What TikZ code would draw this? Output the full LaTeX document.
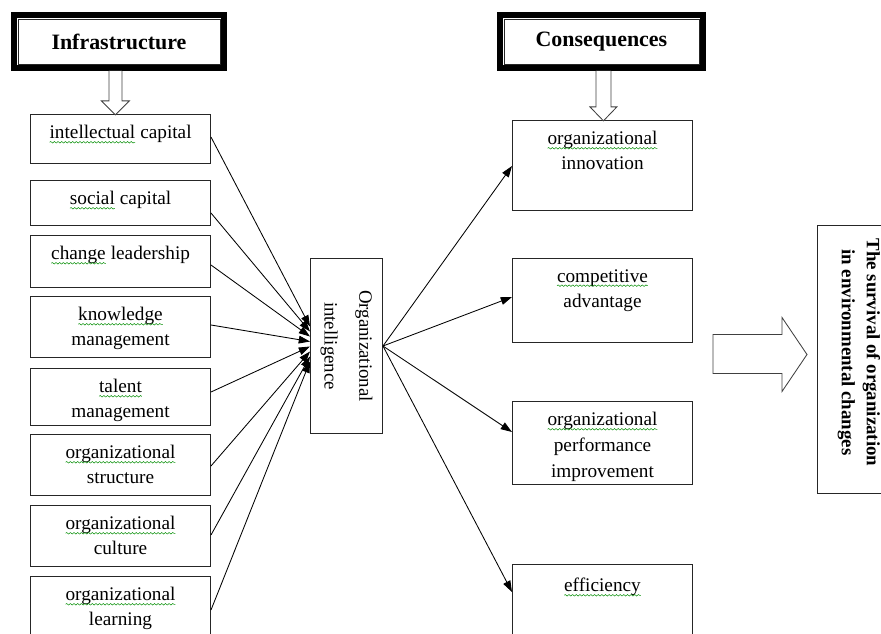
\documentclass[tikz,border=0pt]{standalone}
\usepackage{fontspec}
\setmainfont{Liberation Serif}
\usetikzlibrary{arrows.meta,calc,positioning,decorations.pathmorphing}

\newcommand{\pix}{0.025cm}
% wavy spell-check underline
\newcommand{\spl}[1]{\tikz[baseline=(w.base)]{\node[anchor=base, inner sep=0pt, outer sep=0pt, draw=none, rotate=0] (w) at (0pt,0pt) {#1};
	\draw[green!55!black, line width=0.35pt, decorate, decoration={snake, amplitude=0.55pt, segment length=2.6pt}] ([yshift=-2.4pt]w.base west) -- ([yshift=-2.4pt]w.base east);}}

\tikzset{
  item/.style={draw=black!85, line width=0.7pt, anchor=north west, minimum width=180*\pix, inner sep=0pt},
  txt/.style={anchor=north, align=center, inner sep=0pt, yshift=-8pt, font=\fontsize{13.7}{17.7}\selectfont},
  head/.style={draw=black!85, line width=0.6pt, anchor=north west, minimum height=45*\pix, inner sep=0pt, font=\bfseries\fontsize{15.6}{18}\selectfont},
  frame/.style={line width=5.5*\pix},
  link/.style={-{Triangle[length=8pt,width=5.5pt]}, line width=0.6pt},
  hollow/.style={draw=black!75, line width=0.6pt, fill=white},
}

\begin{document}
\begin{tikzpicture}[x=0.025cm, y=-0.025cm]
	\useasboundingbox (0,0) rectangle (881,633);
	\clip (0,0) rectangle (881,633);
	% headings
	\node[head, minimum width=202*\pix] (infra) at (17.5,18.5) {Infrastructure};
	\node[head, minimum width=195*\pix] (cons) at (503.5,18.5) {Consequences};
	\draw[frame] ($(infra.north west)+(-3.75,-3.75)$) rectangle ($(infra.south east)+(3.75,3.75)$);
	\draw[frame] ($(cons.north west)+(-3.75,-3.75)$) rectangle ($(cons.south east)+(3.75,3.75)$);
	% infrastructure
	\node[item, minimum height=49*\pix, label={[txt]north:{\spl{intellectual} capital}}] (ic) at (30,114) {};
	\node[item, minimum height=45*\pix, label={[txt]north:{\spl{social} capital}}] (sc) at (30,180) {};
	\node[item, minimum height=52*\pix, label={[txt]north:{\spl{change} leadership}}] (cl) at (30,235) {};
	\node[item, minimum height=61*\pix, label={[txt]north:{\spl{knowledge}\\management}}] (km) at (30,296) {};
	\node[item, minimum height=57*\pix, label={[txt]north:{\spl{talent}\\management}}] (tm) at (30,368) {};
	\node[item, minimum height=61*\pix, label={[txt]north:{\spl{organizational}\\structure}}] (os) at (30,434) {};
	\node[item, minimum height=61*\pix, label={[txt]north:{\spl{organizational}\\culture}}] (oc) at (30,505) {};
	\node[item, minimum height=70*\pix, label={[txt]north:{\spl{organizational}\\learning}}] (ol) at (30,576) {};
	% center
	\node[item, minimum width=72*\pix, minimum height=175*\pix, label={[rotate=-90, anchor=center, align=center, inner sep=0pt, font=\fontsize{13.4}{24.8}\selectfont]center:{Organizational\\intelligence}}] (oint) at (310,258) {};
	% consequences
	\node[item, minimum height=90*\pix, label={[txt]north:{\spl{organizational}\\innovation}}] (oi) at (512,120) {};
	\node[item, minimum height=84*\pix, label={[txt]north:{\spl{competitive}\\advantage}}] (ca) at (512,258) {};
	\node[item, minimum height=83*\pix, label={[txt, font=\fontsize{13.7}{18.4}\selectfont]north:{\spl{organizational}\\performance\\improvement}}] (opi) at (512,401) {};
	\node[item, minimum height=80*\pix, label={[txt, yshift=-2pt]north:{\spl{efficiency}}}] (ef) at (512,564) {};
	% survival
	\node[item, minimum width=90*\pix, minimum height=268*\pix, label={[xshift=-2.5pt, yshift=5pt, rotate=-90, anchor=center, align=center, inner sep=0pt, font=\bfseries\fontsize{13.4}{17.7}\selectfont]center:{The survival of organization\\in environmental changes}}] (surv) at (817,225) {};
	% hollow arrows
	\coordinate (a) at ($(infra.south)+(-3.5,6.5)$);
	\draw[hollow] ($(a)+(-6.5,0)$) -- ++(0,30) -- ++(-7.5,0) -- ++(14,14) -- ++(14,-14) -- ++(-7.5,0) -- ++(0,-30);
	\coordinate (b) at ($(cons.south)+(2,6.5)$);
	\draw[hollow] ($(b)+(-7.5,0)$) -- ++(0,36) -- ++(-6,0) -- ++(13.5,14) -- ++(13.5,-14) -- ++(-6,0) -- ++(0,-36);
	\coordinate (c) at ($(surv.west)+(-10,-5)$);
	\draw[hollow] (c) -- ++(-25,-37) -- ++(0,17) -- ++(-69,0) -- ++(0,39) -- ++(69,0) -- ++(0,18) -- cycle;
	% links in
	\draw[link] ($(ic.north east)+(0,23)$) -- ($(oint.west)+(0,-19.5)$);
	\draw[link] ($(sc.north east)+(0,33)$) -- ($(oint.west)+(0,-14.5)$);
	\draw[link] ($(cl.north east)+(0,30)$) -- ($(oint.west)+(0,-9.5)$);
	\draw[link] ($(km.north east)+(0,29)$) -- ($(oint.west)+(0,-4.5)$);
	\draw[link] ($(tm.north east)+(0,24)$) -- ($(oint.west)+(0,0.5)$);
	\draw[link] ($(os.north east)+(0,32)$) -- ($(oint.west)+(0,5.5)$);
	\draw[link] ($(oc.north east)+(0,30)$) -- ($(oint.west)+(0,10.5)$);
	\draw[link] ($(ol.north east)+(0,34)$) -- ($(oint.west)+(0,15.5)$);
	% links out
	\draw[link] (oint.east) -- ($(oi.north west)+(0,46)$);
	\draw[link] (oint.east) -- ($(ca.north west)+(0,39)$);
	\draw[link] (oint.east) -- ($(opi.north west)+(0,31)$);
	\draw[link] (oint.east) -- ($(ef.north west)+(0,28)$);
\end{tikzpicture}
\end{document}
